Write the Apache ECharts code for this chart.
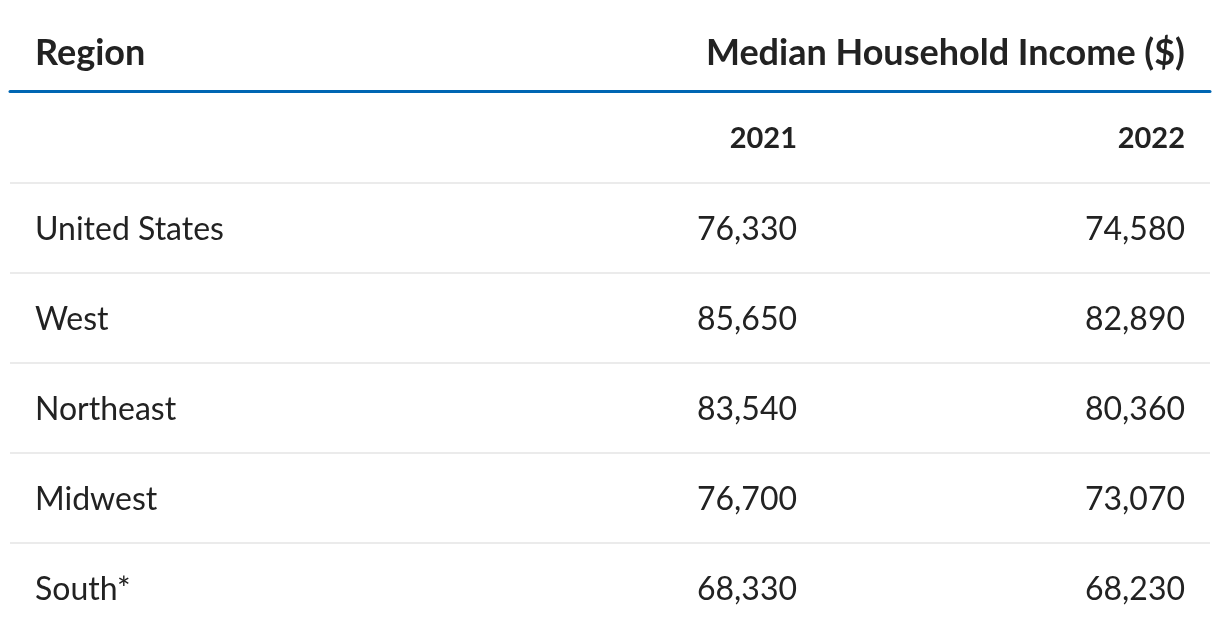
<!DOCTYPE html>
<html>
<head>
<meta charset="utf-8">
<script src="https://cdn.jsdelivr.net/npm/echarts@6/dist/echarts.min.js"></script>
<style>
  html, body { margin: 0; padding: 0; background: #fff; }
  #chart { width: 1220px; height: 642px; }
</style>
</head>
<body>
<div id="chart"></div>
<script>
// table data
const headers = ['Region', 'Median Household Income ($)'];
const years = ['2021', '2022'];
const regions = ['United States', 'West', 'Northeast', 'Midwest', 'South*'];
const income2021 = [76330, 85650, 83540, 76700, 68330];
const income2022 = [74580, 82890, 80360, 73070, 68230];

// column anchors in x-axis units (grid is 1200 wide): region text starts at
// the first, numbers end at the other two
const colX = [25, 787, 1175];
const yearRow = ' ';

const textColor = '#222';
const font = 'Lato';
const fmt = v => v.toLocaleString('en-US');

const chart = echarts.init(document.getElementById('chart'));

const textSeries = (data, align, fontSize, fontWeight, dy) => ({
  type: 'scatter',
  symbolSize: 0,
  silent: true,
  itemStyle: { opacity: 1 },
  data: data,
  label: {
    show: true,
    position: 'inside',
    align: align,
    verticalAlign: 'middle',
    offset: [0, dy],
    color: textColor,
    fontFamily: font,
    fontSize: fontSize,
    fontWeight: fontWeight,
    formatter: p => typeof p.value[2] === 'number' ? fmt(p.value[2]) : p.value[2]
  }
});

chart.setOption({
  animation: false,
  title: [
    {
      text: headers[0], left: 35, top: 35, padding: 0,
      textStyle: { fontFamily: font, fontWeight: 'bold', fontSize: 36, color: textColor }
    },
    {
      text: headers[1], right: 35, top: 35, padding: 0,
      textStyle: { fontFamily: font, fontWeight: 'bold', fontSize: 36, color: textColor }
    }
  ],
  grid: { left: 10, right: 10, top: 93, bottom: 9 },
  xAxis: {
    type: 'value',
    position: 'top',
    min: 0,
    max: 1200,
    offset: 1.5,
    axisLine: { show: true, lineStyle: { color: '#0066b3', width: 3 } },
    axisTick: { show: false },
    axisLabel: { show: false },
    splitLine: { show: false }
  },
  yAxis: {
    type: 'category',
    inverse: true,
    data: [yearRow].concat(regions),
    axisLine: { show: false },
    axisTick: { show: false },
    axisLabel: { show: false },
    splitLine: {
      show: true,
      showMinLine: false,
      showMaxLine: false,
      lineStyle: { color: '#ebebeb', width: 2 }
    }
  },
  series: [
    textSeries(years.map((y, i) => [colX[i + 1], yearRow, y]), 'right', 29, 'bold', 1),
    textSeries(regions.map(r => [colX[0], r, r]), 'left', 32, 'normal', 2),
    textSeries(income2021.map((v, i) => [colX[1], regions[i], v]), 'right', 32, 'normal', 2),
    textSeries(income2022.map((v, i) => [colX[2], regions[i], v]), 'right', 32, 'normal', 2)
  ]
});
</script>
</body>
</html>
